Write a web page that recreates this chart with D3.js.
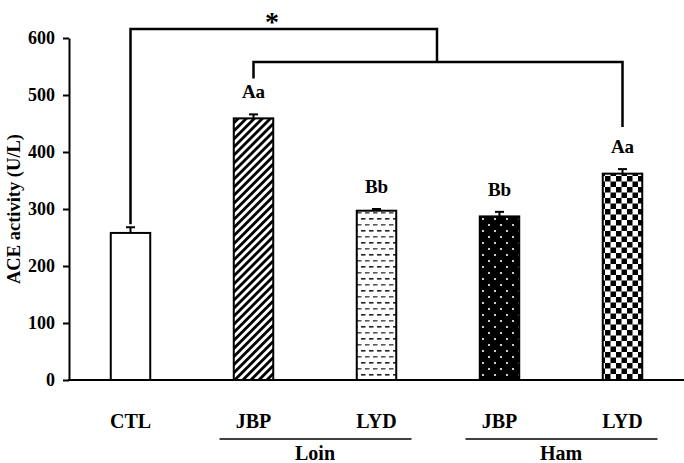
<!DOCTYPE html>
<html>
<head>
<meta charset="utf-8">
<script src="https://cdn.jsdelivr.net/npm/d3@7"></script>
<style>
  html, body { margin: 0; padding: 0; background: #fff; }
  svg { display: block; }
  text { font-family: "Liberation Serif", "Times New Roman", serif; font-weight: bold; fill: #000; }
</style>
</head>
<body>
<svg id="chart" width="684" height="463"></svg>
<script>
// ---- data ----
const keys = ["CTL", "Loin-JBP", "Loin-LYD", "Ham-JBP", "Ham-LYD"];
const categories = ["CTL", "JBP", "LYD", "JBP", "LYD"];
const values = [258, 459, 297, 287, 362];
const errors = [10, 7, 3, 8, 8];
const letters = ["", "Aa", "Bb", "Bb", "Aa"];
const patterns = ["none", "hatch", "dash", "dots", "check"];
const groups = [
  { name: "Loin", members: ["Loin-JBP", "Loin-LYD"] },
  { name: "Ham", members: ["Ham-JBP", "Ham-LYD"] }
];
const yTicks = [0, 100, 200, 300, 400, 500, 600];
const yTitle = "ACE activity (U/L)";
const sigMark = "*";

// ---- setup ----
const svg = d3.select("#chart");
const x = d3.scaleBand().domain(keys).range([69, 684]).paddingInner(0.679).paddingOuter(0.3395);
const y = d3.scaleLinear().domain([0, 600]).range([380, 38]);
const cx = k => x(k) + x.bandwidth() / 2;

// ---- patterns ----
const defs = svg.append("defs");
const ph = defs.append("pattern").attr("id", "hatch").attr("patternUnits", "userSpaceOnUse")
  .attr("width", 5.7).attr("height", 5.7).attr("patternTransform", "rotate(45)");
ph.append("rect").attr("width", 5.7).attr("height", 5.7).attr("fill", "#fff");
ph.append("rect").attr("width", 2.8).attr("height", 5.7).attr("fill", "#000");

const pd = defs.append("pattern").attr("id", "dash").attr("patternUnits", "userSpaceOnUse")
  .attr("width", 8).attr("height", 12);
pd.append("rect").attr("width", 8).attr("height", 12).attr("fill", "#fff");
pd.append("rect").attr("x", 1).attr("y", 2).attr("width", 4.5).attr("height", 1.6).attr("fill", "#222");
pd.append("rect").attr("x", 5).attr("y", 8).attr("width", 4.5).attr("height", 1.6).attr("fill", "#555");
pd.append("rect").attr("x", -3).attr("y", 8).attr("width", 4.5).attr("height", 1.6).attr("fill", "#555");

const pdt = defs.append("pattern").attr("id", "dots").attr("patternUnits", "userSpaceOnUse")
  .attr("width", 12).attr("height", 12);
pdt.append("rect").attr("width", 12).attr("height", 12).attr("fill", "#000");
pdt.append("circle").attr("cx", 3).attr("cy", 3).attr("r", 1.1).attr("fill", "#fff");
pdt.append("circle").attr("cx", 9).attr("cy", 9).attr("r", 1.1).attr("fill", "#fff");

const pc = defs.append("pattern").attr("id", "check").attr("patternUnits", "userSpaceOnUse")
  .attr("width", 11).attr("height", 11);
pc.append("rect").attr("width", 11).attr("height", 11).attr("fill", "#fff");
pc.append("rect").attr("width", 5.5).attr("height", 5.5).attr("fill", "#000");
pc.append("rect").attr("x", 5.5).attr("y", 5.5).attr("width", 5.5).attr("height", 5.5).attr("fill", "#000");

// ---- bars ----
const data = keys.map((k, i) => ({ k, v: values[i], e: errors[i], l: letters[i], p: patterns[i] }));

svg.append("g").selectAll("rect").data(data).join("rect")
  .attr("x", d => x(d.k)).attr("width", x.bandwidth())
  .attr("y", d => y(d.v)).attr("height", d => y(0) - y(d.v))
  .attr("fill", d => d.p === "none" ? "#fff" : `url(#${d.p})`)
  .attr("stroke", "#000").attr("stroke-width", 2);

// error bars
const eb = svg.append("g").attr("stroke", "#000").attr("stroke-width", 2);
eb.selectAll("line.v").data(data).join("line").attr("class", "v")
  .attr("x1", d => cx(d.k)).attr("x2", d => cx(d.k))
  .attr("y1", d => y(d.v)).attr("y2", d => y(d.v + d.e));
eb.selectAll("line.c").data(data).join("line").attr("class", "c")
  .attr("x1", d => cx(d.k) - 4.5).attr("x2", d => cx(d.k) + 4.5)
  .attr("y1", d => y(d.v + d.e)).attr("y2", d => y(d.v + d.e));

// letters
svg.append("g").selectAll("text").data(data.filter(d => d.l)).join("text")
  .attr("x", d => cx(d.k)).attr("y", d => y(d.v + d.e) - 16)
  .attr("text-anchor", "middle").attr("font-size", 19).text(d => d.l);

// ---- axes ----
const yAxis = svg.append("g").attr("transform", "translate(69,0)")
  .call(d3.axisLeft(y).tickValues(yTicks).tickSize(6).tickSizeOuter(0).tickPadding(8));
yAxis.selectAll("path, line").attr("stroke", "#000").attr("stroke-width", 2);
yAxis.selectAll("text").attr("font-size", 18).attr("font-family", "Liberation Serif").attr("font-weight", "bold").attr("fill", "#000");

svg.append("line").attr("x1", 68).attr("x2", 684).attr("y1", y(0)).attr("y2", y(0))
  .attr("stroke", "#000").attr("stroke-width", 2);

// y title
svg.append("text").attr("transform", `translate(20,${(y(0) + y(600)) / 2}) rotate(-90)`)
  .attr("text-anchor", "middle").attr("font-size", 18.5).text(yTitle);

// category labels
svg.append("g").selectAll("text").data(keys).join("text")
  .attr("x", k => cx(k)).attr("y", 428).attr("text-anchor", "middle")
  .attr("font-size", 20).text((k, i) => categories[i]);

// group labels & underlines
groups.forEach(g => {
  const a = cx(g.members[0]), b = cx(g.members[g.members.length - 1]);
  svg.append("line").attr("x1", a - 34).attr("x2", b + 35).attr("y1", 439).attr("y2", 439)
    .attr("stroke", "#000").attr("stroke-width", 1.5);
  svg.append("text").attr("x", (a + b) / 2).attr("y", 460).attr("text-anchor", "middle")
    .attr("font-size", 20).text(g.name);
});

// ---- significance brackets ----
const br = svg.append("g").attr("fill", "none").attr("stroke", "#000").attr("stroke-width", 2.5);
const c0 = cx(keys[0]), c1 = cx(keys[1]), c4 = cx(keys[4]);
const yTop = 29, yInner = 62;
const joinX = 437;
br.append("path").attr("d",
  `M${c0},${y(values[0] + errors[0]) - 3} V${yTop} H${joinX} V${yInner}`);
br.append("path").attr("d",
  `M${c1},${y(values[1] + errors[1]) - 36} V${yInner} H${c4} V${y(values[4] + errors[4]) - 42}`);
svg.append("text").attr("x", 272).attr("y", 31).attr("text-anchor", "middle")
  .attr("font-size", 28).attr("font-weight", "normal").text(sigMark);
</script>
</body>
</html>
